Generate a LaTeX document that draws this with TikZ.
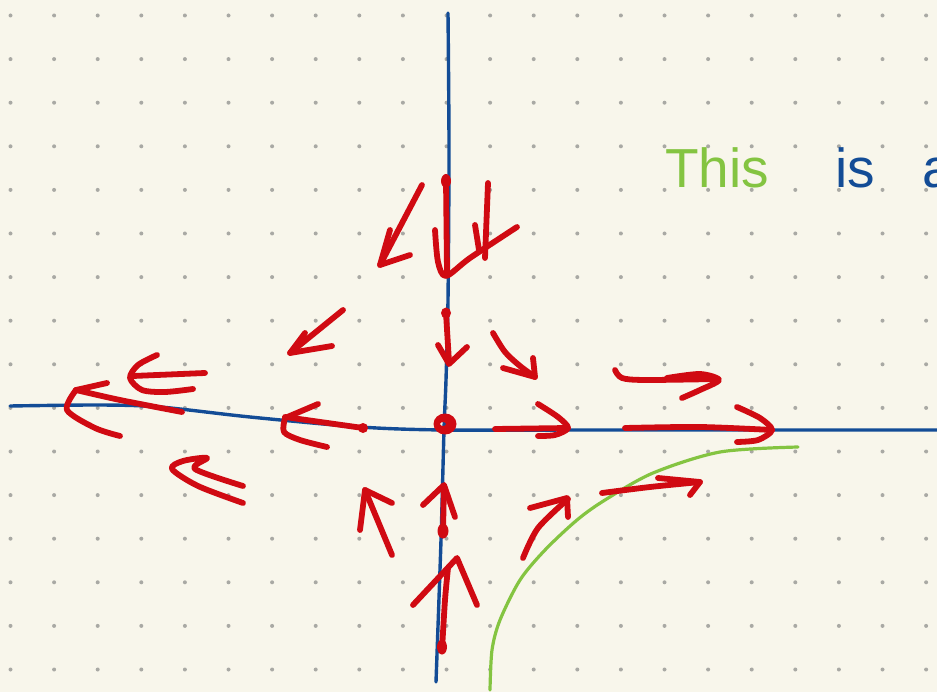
\documentclass[tikz,border=0pt]{standalone}
\usepackage{fontspec}
\setmainfont{Liberation Sans}
\definecolor{paper}{HTML}{F8F6EB}
\definecolor{dotgray}{HTML}{A9A9A4}
\definecolor{penred}{HTML}{D00A12}
\definecolor{penblue}{HTML}{134C96}
\definecolor{pengreen}{HTML}{84C441}

\tikzset{
  axisline/.style={draw=penblue, line width=3.4pt, line cap=round, line join=round},
  flow/.style={draw=penred, line width=5.8pt, line cap=round, line join=round},
  levelcurve/.style={draw=pengreen, line width=3.2pt, line cap=round},
  handword/.style={anchor=base west, inner sep=0pt, font=\fontsize{55}{55}\selectfont},
}

\begin{document}
\begin{tikzpicture}[x=1pt, y=-1pt]
  % 0. Paper and dot grid
  \fill[paper] (0,0) rectangle (937,692);
  \clip (0,0) rectangle (937,692);
  \foreach \i in {0,...,21}
    \foreach \j in {0,...,15}
      \fill[dotgray] (10.5+43.6*\i, 15.5+43.6*\j) circle (2);

  % 1. Axes (blue)
  \draw[axisline] plot[smooth] coordinates
    {(10,406) (100,405) (160,407) (250,417) (360,427) (445,430) (600,430) (937,430)};
  \draw[axisline] plot[smooth] coordinates
    {(448,13) (449,150) (448,300) (446,380) (444,430) (441,540) (436,682)};

  % 2. Level curve (green)
  \draw[levelcurve] plot[smooth] coordinates
    {(490,690) (492,650) (500,620) (520,580) (545,550) (577,520) (605,500) (653,473) (720,452) (798,447)};

  % 3. Origin and starting dots
  \fill[penred, even odd rule] (445,424) ellipse (11.5 and 10.5) (443,424) ellipse (3 and 2);
  \fill[penred] (446,181) ellipse (5 and 7);
  \fill[penred] (446,313) ellipse (5 and 5.5);
  \fill[penred] (363,428) ellipse (5 and 5);
  \fill[penred] (443,531) ellipse (5.5 and 7.5);
  \fill[penred] (442,647) ellipse (5 and 7.5);

  % 4. Flow arrows above the x-axis
  \draw[flow] (446,180) -- (447,272);
  \draw[flow] plot[smooth] coordinates {(435,230) (438,262) (446,276) (470,258) (517,227)};
  \draw[flow] (488,183) -- (485,258);
  \draw[flow] (475,225) -- (479,250);
  \draw[flow] (422,185) -- (380,265);
  \draw[flow] (390,230) -- (380,265) -- (410,255);
  \draw[flow] (343,310) -- (290,353);
  \draw[flow] (305,333) -- (290,353) -- (332,346);
  \draw[flow] plot[smooth] coordinates {(493,333) (505,352) (520,366) (535,377)};
  \draw[flow] (533,358) -- (535,377) -- (503,368);
  \draw[flow] (446,313) -- (449,362);
  \draw[flow] (438,345) -- (449,364) -- (467,347);
  \draw[flow] plot[smooth] coordinates {(615,370) (622,378) (645,380) (718,379)};
  \draw[flow] plot[smooth] coordinates {(667,378) (700,374) (719,380) (700,390) (682,398)};

  % 5. Flow arrows along the x-axis
  \draw[flow] (495,429) -- (568,428);
  \draw[flow] plot[smooth] coordinates {(538,404) (558,417) (568,428) (555,435) (538,436)};
  \draw[flow] plot[smooth] coordinates {(625,428) (700,427) (772,430)};
  \draw[flow] plot[smooth] coordinates {(737,407) (760,418) (772,430) (758,440) (737,442)};
  \draw[flow] (363,428) -- (285,417);
  \draw[flow] (318,404) -- (285,418);
  \draw[flow] plot[smooth] coordinates {(285,418) (284,432) (300,440) (327,447)};
  \draw[flow] plot[smooth] coordinates {(182,412) (120,400) (76,390)};
  \draw[flow] (107,383) -- (76,390);
  \draw[flow] plot[smooth] coordinates {(76,390) (67,410) (95,428) (120,436)};

  % 6. Flow arrows below the x-axis
  \draw[flow] plot[smooth] coordinates {(157,355) (138,365) (130,378) (142,390) (165,392) (193,389)};
  \draw[flow] (133,376) -- (205,373);
  \draw[flow] plot[smooth] coordinates {(243,486) (195,469) (207,458) (183,461) (172,469) (198,486) (243,503)};
  \draw[flow] plot[smooth] coordinates {(602,493) (650,487) (700,482)};
  \draw[flow] (658,478) -- (700,482) -- (690,495);
  \draw[flow] plot[smooth] coordinates {(523,558) (538,528) (568,499)};
  \draw[flow] (530,508) -- (567,498) -- (568,517);
  \draw[flow] (443,532) -- (444,486);
  \draw[flow] (423,505) -- (444,485) -- (455,517);
  \draw[flow] plot[smooth] coordinates {(442,650) (445,600) (448,568)};
  \draw[flow] (413,605) -- (457,558) -- (477,605);
  \draw[flow] (392,555) -- (365,490);
  \draw[flow] (360,530) -- (365,490) -- (392,503);

  % 7. Handwritten note
  \node[handword, text=pengreen] (wordthis) at (665,188) {This};
  \node[handword, text=penblue] (wordis) at (835,188) {is};
  \node[handword, text=penblue] (worda) at (922,188) {a};
\end{tikzpicture}
\end{document}
